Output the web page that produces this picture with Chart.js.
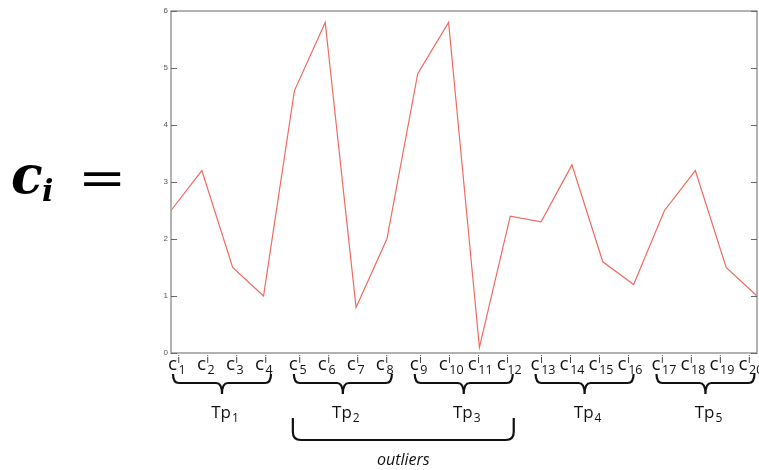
<!DOCTYPE html>
<html>
<head>
<meta charset="utf-8">
<script src="https://cdn.jsdelivr.net/npm/chart.js@4/dist/chart.umd.min.js"></script>
<style>
  html, body { margin: 0; padding: 0; background: #fff; }
  canvas { display: block; }
</style>
</head>
<body>
<canvas id="chart" width="759" height="470"></canvas>
<script>
// Sample indices (subscripts of c^i_n) and the value of each sample
const sampleIndex = ['1', '2', '3', '4', '5', '6', '7', '8', '9', '10',
                     '11', '12', '13', '14', '15', '16', '17', '18', '19', '20'];
const seriesValues = [2.5, 3.2, 1.5, 1.0, 4.6, 5.8, 0.8, 2.0, 4.9, 5.8,
                      0.1, 2.4, 2.3, 3.3, 1.6, 1.2, 2.5, 3.2, 1.5, 1.0];
const yTicks = [0, 1, 2, 3, 4, 5, 6];

// Time periods: each groups four consecutive samples
const periodName = 'Tp';
const periodSubs = ['1', '2', '3', '4', '5'];
const periodSize = 4;
const outlierPeriods = [1, 2];
const outlierText = 'outliers';

const LABEL_FONT = '"Open Sans", "Liberation Sans", sans-serif';

function drawBrace(ctx, x0, x1, yTop, h) {
  const xm = (x0 + x1) / 2, ym = yTop + h * 0.45, yTip = yTop + h, r = 6;
  ctx.beginPath();
  ctx.moveTo(x0, yTop);
  ctx.quadraticCurveTo(x0, ym, x0 + r, ym);
  ctx.lineTo(xm - r, ym);
  ctx.quadraticCurveTo(xm, ym, xm, yTip);
  ctx.quadraticCurveTo(xm, ym, xm + r, ym);
  ctx.lineTo(x1 - r, ym);
  ctx.quadraticCurveTo(x1, ym, x1, yTop);
  ctx.stroke();
}

function drawBracket(ctx, x0, x1, yTop, yBot) {
  const r = 8;
  ctx.beginPath();
  ctx.moveTo(x0, yTop);
  ctx.lineTo(x0, yBot - r);
  ctx.quadraticCurveTo(x0, yBot, x0 + r, yBot);
  ctx.lineTo(x1 - r, yBot);
  ctx.quadraticCurveTo(x1, yBot, x1, yBot - r);
  ctx.lineTo(x1, yTop);
  ctx.stroke();
}

// c^i_n label
function drawSampleLabel(ctx, x, yBase, sub) {
  ctx.textAlign = 'left';
  ctx.textBaseline = 'alphabetic';
  ctx.font = '19px ' + LABEL_FONT;
  ctx.fillText('c', x, yBase);
  const w = ctx.measureText('c').width;
  ctx.font = '10px ' + LABEL_FONT;
  ctx.fillText('i', x + w + 0.5, yBase - 7);
  ctx.font = '12.5px ' + LABEL_FONT;
  ctx.fillText(sub, x + w + 1.5, yBase + 4);
}

const annotations = {
  id: 'annotations',
  afterDraw(chart) {
    const { ctx, chartArea: a, scales } = chart;
    const xs = scales.x, ys = scales.y;
    ctx.save();

    // frame with inward tick marks on both vertical sides
    ctx.strokeStyle = '#999';
    ctx.lineWidth = 1.5;
    ctx.strokeRect(a.left, a.top, a.right - a.left, a.bottom - a.top);
    ctx.lineWidth = 1.2;
    ctx.strokeStyle = '#666';
    yTicks.forEach(v => {
      const y = Math.round(ys.getPixelForValue(v)) + 0.5;
      ctx.beginPath();
      ctx.moveTo(a.left, y); ctx.lineTo(a.left + 6, y);
      ctx.moveTo(a.right, y); ctx.lineTo(a.right - 6, y);
      ctx.stroke();
    });

    // sample labels and period braces
    ctx.fillStyle = '#111';
    ctx.strokeStyle = '#111';
    ctx.lineWidth = 2.2;
    const braceX = [];
    periodSubs.forEach((sub, g) => {
      const start = g * periodSize;
      const left = xs.getPixelForValue(start) - 3 - g * 2.5;
      for (let k = 0; k < periodSize; k++) {
        drawSampleLabel(ctx, left + k * 29, 370, sampleIndex[start + k]);
      }
      const b0 = left + 5, b1 = left + 103;
      braceX.push([b0, b1]);
      drawBrace(ctx, b0, b1, 374, 20);
      // Tp_n label
      const cx = (b0 + b1) / 2 + 3;
      ctx.font = '17px ' + LABEL_FONT;
      const tw = ctx.measureText(periodName).width;
      ctx.font = '12px ' + LABEL_FONT;
      const sw = ctx.measureText(sub).width;
      const x0 = cx - (tw + sw + 1) / 2;
      ctx.font = '17px ' + LABEL_FONT;
      ctx.fillText(periodName, x0, 418);
      ctx.font = '12px ' + LABEL_FONT;
      ctx.fillText(sub, x0 + tw + 1, 422);
    });

    // bracket spanning the outlier periods
    const ox0 = braceX[outlierPeriods[0]][0] - 1;
    const ox1 = braceX[outlierPeriods[outlierPeriods.length - 1]][1] + 1;
    drawBracket(ctx, ox0, ox1, 418, 440);
    ctx.font = 'italic 16px ' + LABEL_FONT;
    ctx.textAlign = 'center';
    ctx.fillText(outlierText, (ox0 + ox1) / 2, 465);

    // c_i = on the left
    ctx.textAlign = 'left';
    ctx.fillStyle = '#000';
    ctx.font = 'bold italic 52px "DejaVu Serif", serif';
    ctx.fillText('c', 11, 193);
    ctx.font = 'bold italic 30px "DejaVu Serif", serif';
    ctx.fillText('i', 42, 201);
    ctx.save();
    ctx.translate(78, 0);
    ctx.scale(1.2, 1);
    ctx.font = '48px "DejaVu Serif", serif';
    ctx.fillText('=', 0, 195);
    ctx.restore();

    ctx.restore();
  }
};

new Chart(document.getElementById('chart'), {
  type: 'line',
  data: {
    labels: sampleIndex,
    datasets: [{
      data: seriesValues,
      borderColor: '#f06a60',
      borderWidth: 1.2,
      pointRadius: 0,
      tension: 0,
      fill: false
    }]
  },
  options: {
    responsive: false,
    animation: false,
    devicePixelRatio: 1,
    layout: { padding: { top: 11, right: 2, bottom: 117, left: 0 } },
    plugins: { legend: { display: false }, tooltip: { enabled: false } },
    scales: {
      x: { display: false, offset: false },
      y: {
        min: 0, max: 6,
        ticks: {
          stepSize: 1,
          padding: 3,
          color: '#555',
          font: { size: 8, family: '"Liberation Sans", sans-serif' }
        },
        grid: { display: false, drawTicks: false },
        border: { display: false },
        afterFit(scale) { scale.width = 171; }
      }
    }
  },
  plugins: [annotations]
});
</script>
</body>
</html>
